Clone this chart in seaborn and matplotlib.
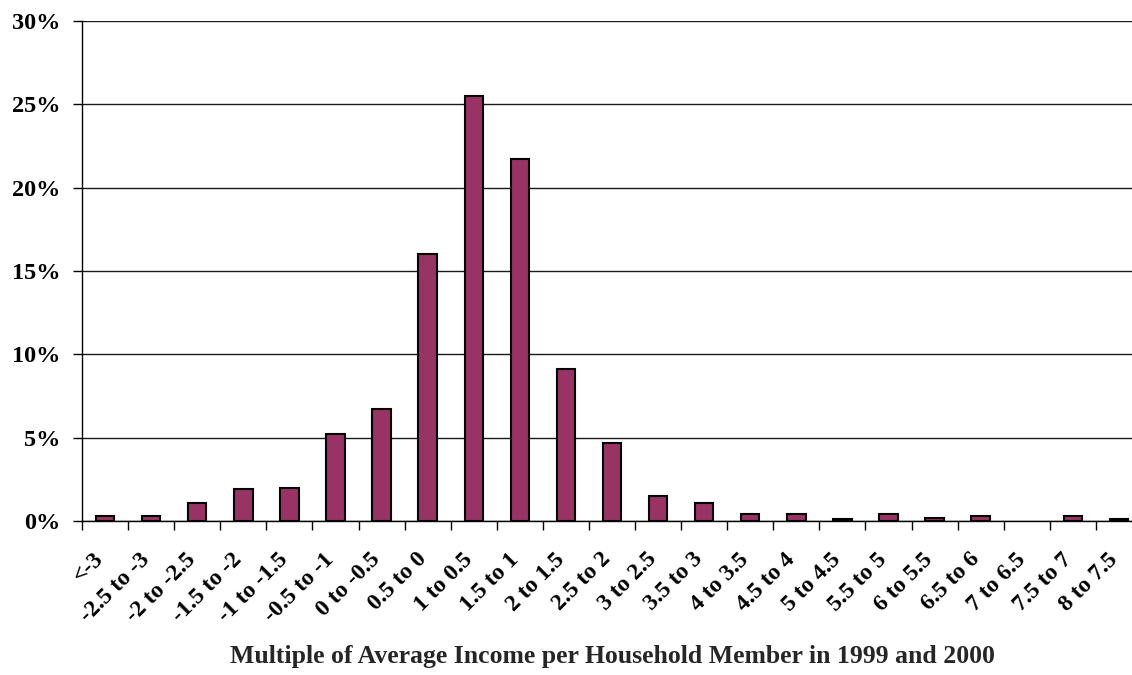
import matplotlib
matplotlib.use("Agg")
import matplotlib.pyplot as plt
import matplotlib.ticker as mticker
import matplotlib.transforms as mtransforms
import seaborn as sns
import pandas as pd
import numpy as np

# data (percent of households)
categories = ["<-3", "-2.5 to -3", "-2 to -2.5", "-1.5 to -2", "-1 to -1.5",
              "-0.5 to -1", "0 to -0.5", "0.5 to 0", "1 to 0.5", "1.5 to 1",
              "2 to 1.5", "2.5 to 2", "3 to 2.5", "3.5 to 3", "4 to 3.5",
              "4.5 to 4", "5 to 4.5", "5.5 to 5", "6 to 5.5", "6.5 to 6",
              "7 to 6.5", "7.5 to 7", "8 to 7.5"]
shares = [0.3, 0.3, 1.1, 1.9, 2.0, 5.2, 6.7, 16.0, 25.5, 21.7, 9.1, 4.7,
          1.5, 1.1, 0.4, 0.4, 0.1, 0.4, 0.2, 0.3, 0.0, 0.3, 0.1]
y_ticks = [0, 5, 10, 15, 20, 25, 30]
x_title = "Multiple of Average Income per Household Member in 1999 and 2000"

df = pd.DataFrame({"Range": categories, "Share": shares})

sns.set_theme(style="white")
plt.rcParams["font.family"] = ["Liberation Serif", "DejaVu Serif"]
plt.rcParams["font.weight"] = "bold"
plt.rcParams["text.color"] = "black"
plt.rcParams["xtick.color"] = "black"
plt.rcParams["ytick.color"] = "black"

fig = plt.figure(figsize=(11.32, 6.75), dpi=100)
# axes run slightly past the right edge, as in the cropped original
ax = fig.add_axes([82 / 1132, 154 / 675, 1060 / 1132, 500 / 675])

sns.barplot(data=df, x="Range", y="Share", color="#993366", saturation=1,
            edgecolor="black", linewidth=1.5, width=0.4, ax=ax, zorder=3)
# empty category: no outline at all
for p in ax.patches:
    if p.get_height() == 0:
        p.set_visible(False)

ax.set_ylim(0, 30)
ax.set_xlim(-0.5, len(categories) - 0.5)
ax.set_yticks(y_ticks)
ax.yaxis.set_major_formatter(mticker.PercentFormatter(decimals=0))
ax.yaxis.grid(True, color="#1a1a1a", linewidth=1.0, zorder=0)
ax.set_axisbelow(True)

# labels at centres, tick marks at category boundaries
ax.set_xticks(np.arange(len(categories)))
ax.set_xticklabels(categories, rotation=45, ha="right", rotation_mode="anchor")
ax.set_xticks(np.arange(len(categories) + 1) - 0.5, minor=True)
ax.tick_params(axis="x", which="major", length=0, pad=20, labelsize=17)
ax.tick_params(axis="x", which="minor", length=6.5, width=1, color="black",
               direction="out", bottom=True)
ax.tick_params(axis="y", length=6.5, width=1, color="black", direction="out",
               left=True, labelsize=17.5, pad=9)
shift = mtransforms.ScaledTranslation(-12 / 100, 0, fig.dpi_scale_trans)
for lab in ax.get_xticklabels():
    lab.set_fontweight("bold")
    lab.set_transform(lab.get_transform() + shift)
for lab in ax.get_yticklabels():
    lab.set_fontweight("bold")

for side in ["top", "right"]:
    ax.spines[side].set_visible(False)
for side in ["left", "bottom"]:
    ax.spines[side].set_color("black")
    ax.spines[side].set_linewidth(1.0)

ax.set_ylabel("")
ax.set_xlabel(x_title, fontsize=18.5, fontweight="bold")
ax.xaxis.set_label_coords(0.5, -124 / 500)

fig.savefig("out.png", dpi=100)
